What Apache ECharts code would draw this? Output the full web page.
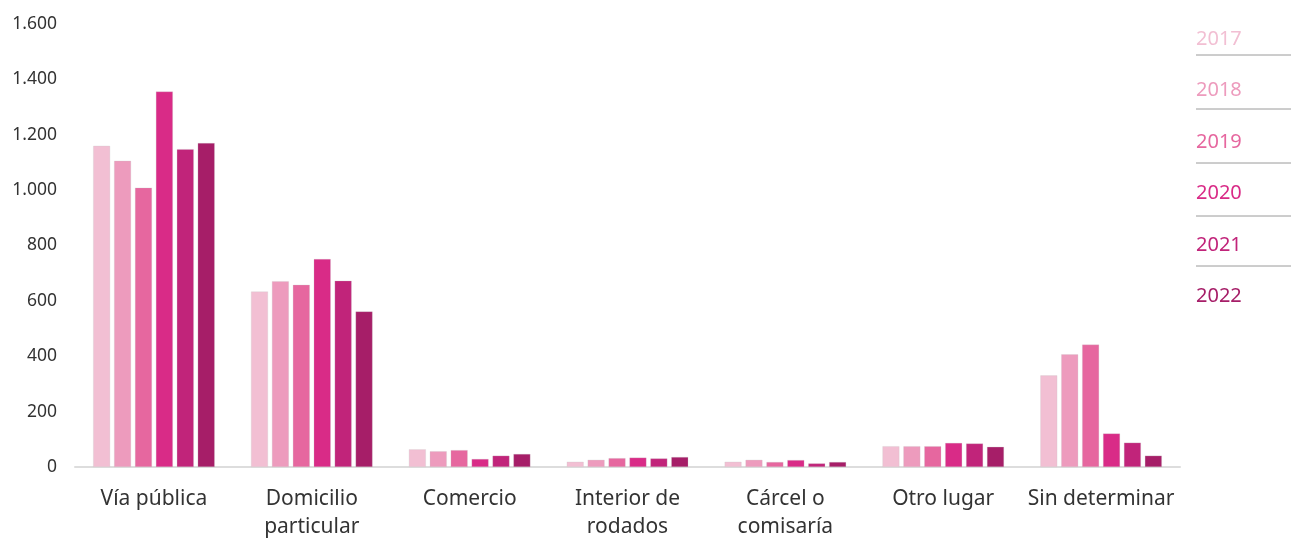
<!DOCTYPE html>
<html>
<head>
<meta charset="utf-8">
<script src="https://cdn.jsdelivr.net/npm/echarts@6/dist/echarts.min.js"></script>
<style>
  html, body { margin: 0; padding: 0; background: #fff; }
  #chart { width: 1291px; height: 541px; }
</style>
</head>
<body>
<div id="chart"></div>
<script>
// categorías (lugar del hecho)
var categories = ['Vía pública', 'Domicilio\nparticular', 'Comercio', 'Interior de\nrodados', 'Cárcel o\ncomisaría', 'Otro lugar', 'Sin determinar'];
var years = ['2017', '2018', '2019', '2020', '2021', '2022'];
var colors = ['#f2bfd3', '#ed9bbd', '#e6679f', '#d92b87', '#c1247a', '#a61e68'];

var v2017 = [1160, 634, 64, 19, 19, 75, 331];
var v2018 = [1106, 671, 57, 26, 26, 75, 407];
var v2019 = [1009, 658, 61, 32, 18, 75, 442];
var v2020 = [1356, 751, 29, 34, 25, 87, 121];
var v2021 = [1148, 673, 41, 31, 13, 85, 88];
var v2022 = [1170, 562, 47, 36, 18, 73, 41];
var values = [v2017, v2018, v2019, v2020, v2021, v2022];

var yMin = 0, yMax = 1600, yStep = 200;

var chart = echarts.init(document.getElementById('chart'));

var series = years.map(function (y, i) {
    return {
        name: y,
        type: 'bar',
        data: values[i],
        barGap: '23%',
        barCategoryGap: '23%',
        itemStyle: { color: colors[i], borderColor: 'rgba(200,200,200,0.5)', borderWidth: 0.5 }
    };
});

// líneas separadoras debajo de cada año de la leyenda
var sepY = [55, 109, 163, 216, 266];
var graphics = sepY.map(function (y) {
    return {
        type: 'line',
        shape: { x1: 1196, y1: y, x2: 1291, y2: y },
        style: { stroke: '#9a9a9a', lineWidth: 1 }
    };
});

var option = {
    animation: false,
    textStyle: { fontFamily: 'Noto Sans' },
    grid: { left: 75, right: 111, top: 24, bottom: 74, containLabel: false },
    legend: {
        orient: 'vertical',
        left: 1186,
        top: 24,
        icon: 'none',
        itemWidth: 0,
        itemHeight: 20,
        itemGap: 31.5,
        selectedMode: false,
        data: years.map(function (y, i) {
            return { name: y, textStyle: { color: colors[i], fontSize: 20, fontFamily: 'Noto Sans' } };
        })
    },
    xAxis: {
        type: 'category',
        data: categories,
        axisLine: { show: true, lineStyle: { color: '#dddddd', width: 2 } },
        axisTick: { show: false },
        axisLabel: { color: '#333', fontSize: 21, lineHeight: 28, margin: 18, interval: 0 }
    },
    yAxis: {
        type: 'value',
        min: yMin,
        max: yMax,
        interval: yStep,
        axisLine: { show: false },
        axisTick: { show: false },
        splitLine: { show: false },
        axisLabel: {
            color: '#333',
            fontSize: 17.5,
            margin: 18,
            formatter: function (v) {
                return String(v).replace(/\B(?=(\d{3})+(?!\d))/g, '.');
            }
        }
    },
    graphic: graphics,
    series: series
};

chart.setOption(option);
</script>
</body>
</html>
